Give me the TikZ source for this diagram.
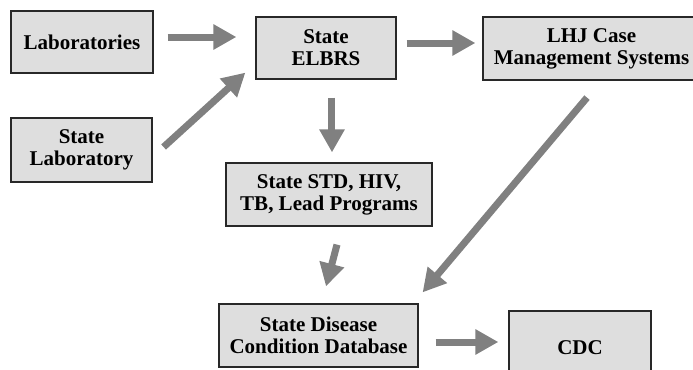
\documentclass[tikz,border=0pt]{standalone}
\usepackage{fontspec}
\setmainfont{Liberation Serif}
\usetikzlibrary{arrows.meta,calc}

\definecolor{boxfill}{RGB}{222,222,222}
\definecolor{boxline}{RGB}{40,40,40}
\definecolor{flowgray}{RGB}{128,128,128}

\tikzset{
  box/.style={draw=boxline, fill=boxfill, line width=0.6pt, align=center,
    inner sep=2pt, font=\fontsize{10.5}{11}\selectfont\bfseries},
  flow/.style={draw=flowgray, line width=3.5pt,
    -{Triangle[length=11.5pt,width=12pt]}}
}

\begin{document}
\begin{tikzpicture}[x=0.5pt,y=-0.5pt]
				\useasboundingbox (0,0) rectangle (693,370);

				\node (Labs) [box, minimum width=71pt, minimum height=31pt] at (82, 42) {Laboratories};
				\node (StateLab) [box, minimum width=70.5pt, minimum height=32pt] at (81.5, 150) {State\\Laboratory};
				\node (ELBRS) [box, minimum width=70pt, minimum height=31pt] at (326, 48) {State\\ELBRS};
				\node (LHJ) [box, minimum width=108.5pt, minimum height=31.5pt] at (591.5, 48.5) {LHJ Case\\Management Systems};
				\node (Programs) [box, minimum width=103pt, minimum height=31.5pt] at (329, 194.5) {State STD, HIV,\\TB, Lead Programs};
				\node (Database) [box, minimum width=99.5pt, minimum height=31.5pt] at (318.5, 335.5) {State Disease\\Condition Database};
				\node (CDC) [box, minimum width=71pt, minimum height=37pt] at (580, 348) {CDC};

				\draw[flow] ($(Labs.east)+(14,-5)$) -- ($(ELBRS.west)+(-19,-11)$);
				\draw[flow] ($(StateLab.east)+(11,-3)$) -- ($(ELBRS.south west)+(-10,-7)$);
				\draw[flow] ($(ELBRS.south)+(6,18)$) -- ($(Programs.north)+(3,-10)$);
				\draw[flow] ($(ELBRS.east)+(10,-5)$) -- ($(LHJ.west)+(-7,-5.5)$);
				\draw[flow] ($(LHJ.south)+(-4.5,17)$) -- ($(Database.north east)+(4,-11)$);
				\draw[flow] ($(Programs.south)+(8,18)$) -- ($(Database.north)+(7.5,-17)$);
				\draw[flow] ($(Database.east)+(17,6.5)$) -- ($(CDC.west)+(-10,-6)$);
\end{tikzpicture}
\end{document}
